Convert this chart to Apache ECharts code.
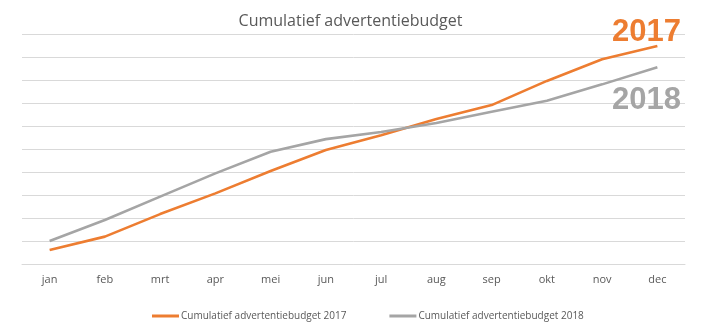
<!DOCTYPE html>
<html>
<head>
<meta charset="utf-8">
<script src="https://cdn.jsdelivr.net/npm/echarts@6/dist/echarts.min.js"></script>
<style>
  html, body { margin: 0; padding: 0; background: #fff; }
  #chart { width: 701px; height: 336px; }
</style>
</head>
<body>
<div id="chart"></div>
<script>
const months = ['jan', 'feb', 'mrt', 'apr', 'mei', 'jun', 'jul', 'aug', 'sep', 'okt', 'nov', 'dec'];
const budget2017 = [0.61, 1.19, 2.17, 3.07, 4.04, 4.96, 5.6, 6.3, 6.91, 7.96, 8.9, 9.48];
const budget2018 = [1.0, 1.91, 2.93, 3.94, 4.88, 5.43, 5.74, 6.13, 6.62, 7.1, 7.81, 8.55];
const seriesNames = ['Cumulatief advertentiebudget 2017', 'Cumulatief advertentiebudget 2018'];

const ORANGE = '#ED7D31';
const GREY = '#A5A5A5';
const TEXT = '#595959';
const FONT = '"Open Sans", "Noto Sans", sans-serif';

const chart = echarts.init(document.getElementById('chart'), null, { renderer: 'canvas' });
chart.setOption({
  animation: false,
  backgroundColor: '#fff',
  title: {
    text: 'Cumulatief advertentiebudget',
    left: 'center',
    top: 8,
    textStyle: { color: TEXT, fontFamily: FONT, fontSize: 16, fontWeight: 'normal' }
  },
  legend: {
    bottom: 10,
    left: 147,
    itemGap: 43,
    itemWidth: 27,
    itemHeight: 3,
    icon: 'rect',
    textStyle: { color: TEXT, fontFamily: FONT, fontSize: 10, padding: [0, 0, 0, -3] },
    data: seriesNames
  },
  grid: { left: 22, right: 16, top: 34, bottom: 72 },
  xAxis: {
    type: 'category',
    data: months,
    boundaryGap: true,
    axisLine: { lineStyle: { color: '#D9D9D9' } },
    axisTick: { show: false },
    axisLabel: { color: TEXT, fontFamily: FONT, fontSize: 11, margin: 10 }
  },
  yAxis: {
    type: 'value',
    min: 0,
    max: 10,
    interval: 1,
    axisLabel: { show: false },
    axisLine: { show: false },
    axisTick: { show: false },
    splitLine: { lineStyle: { color: '#D9D9D9', width: 1 } }
  },
  series: [
    {
      name: seriesNames[0],
      type: 'line',
      data: budget2017,
      symbol: 'none',
      lineStyle: { color: ORANGE, width: 2.6 },
      itemStyle: { color: ORANGE }
    },
    {
      name: seriesNames[1],
      type: 'line',
      data: budget2018,
      symbol: 'none',
      lineStyle: { color: GREY, width: 2.6 },
      itemStyle: { color: GREY }
    }
  ],
  graphic: [
    {
      type: 'text',
      right: 20,
      top: 17,
      z: 100,
      style: { text: '2017', fill: ORANGE, font: 'bold 31px "Liberation Sans", Arial, sans-serif' }
    },
    {
      type: 'text',
      right: 20,
      top: 85,
      z: 100,
      style: { text: '2018', fill: GREY, font: 'bold 31px "Liberation Sans", Arial, sans-serif' }
    }
  ]
});
</script>
</body>
</html>
